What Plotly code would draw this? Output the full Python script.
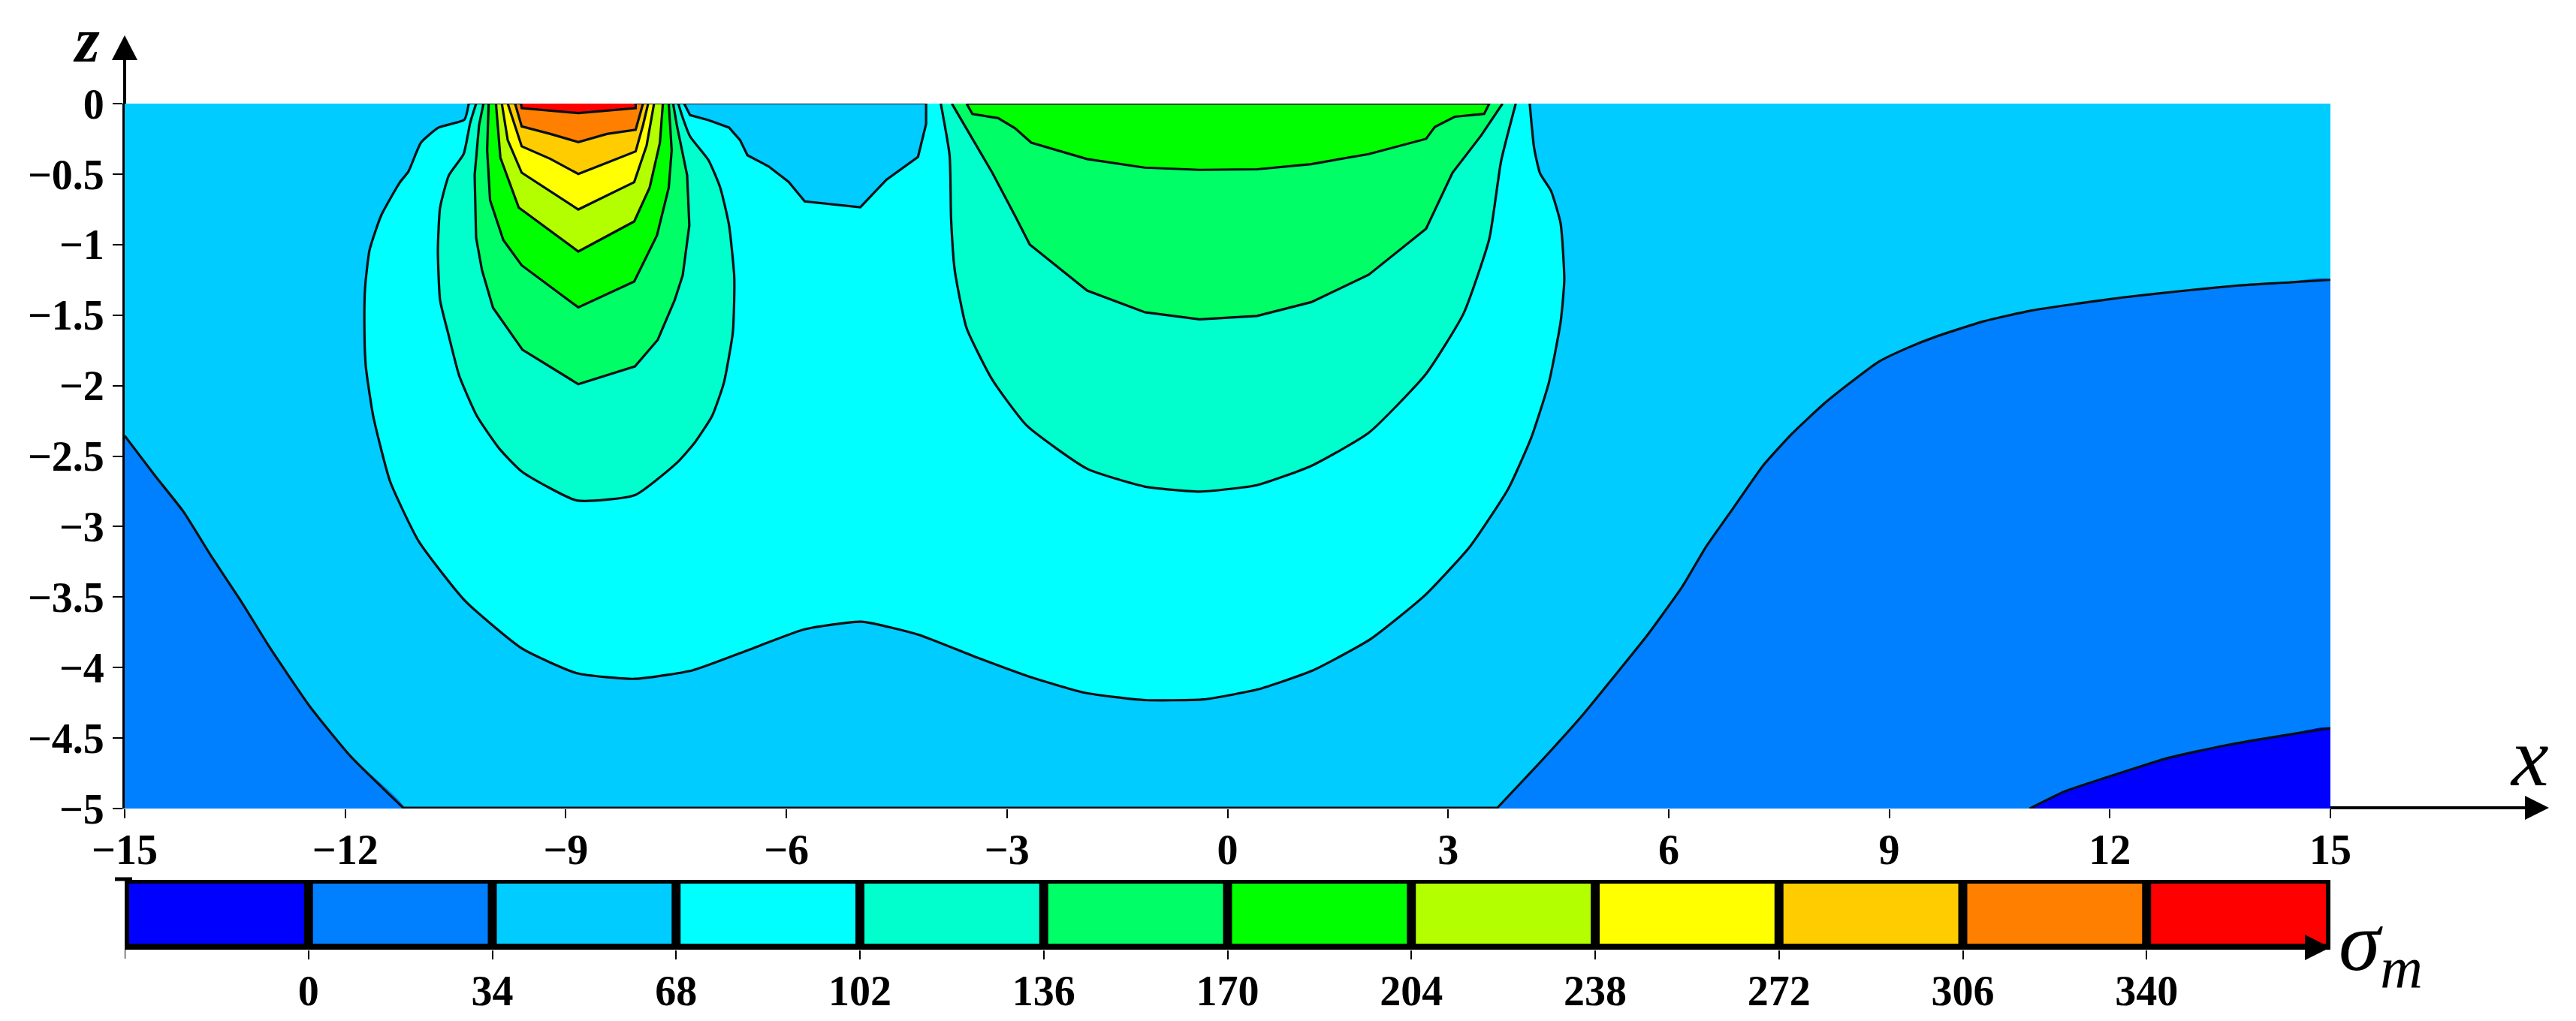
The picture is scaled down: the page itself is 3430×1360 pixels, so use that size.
import plotly.graph_objects as go

W, H = 3430, 1360
SERIF = "Liberation Serif"

# band colours, one per colour bar cell
band_colors = ["#0000ff", "#0080ff", "#00ccff", "#00ffff", "#00ffcc", "#00ff66",
               "#00ff00", "#b3ff00", "#ffff00", "#ffcc00", "#ff8000", "#ff0000"]
cbar_centers = [-17, 17, 51, 85, 119, 153, 187, 221, 255, 289, 323, 357]
cbar_heights = [1] * 12
cbar_ticks = [0, 34, 68, 102, 136, 170, 204, 238, 272, 306, 340]
cbar_labels = ["0", "34", "68", "102", "136", "170", "204", "238", "272", "306", "340"]

x_ticks = [-15, -12, -9, -6, -3, 0, 3, 6, 9, 12, 15]
x_labels = ["−15", "−12", "−9", "−6", "−3", "0", "3", "6", "9", "12", "15"]
z_ticks = [0, -0.5, -1, -1.5, -2, -2.5, -3, -3.5, -4, -4.5, -5]
z_labels = ["0", "−0.5", "−1", "−1.5", "−2", "−2.5", "−3", "−3.5", "−4", "−4.5", "−5"]

domain_x = [-15, 15, 15, -15]
domain_z = [0, 0, -5, -5]

# isolines, (x, z) in axis units
iso0_x = [10.91, 11.38, 12.01, 12.80, 13.59, 14.38, 15.0]
iso0_z = [-5.0, -4.88, -4.77, -4.64, -4.55, -4.48, -4.43]

iso34_left_x = [-15.0, -14.59, -14.2, -13.81, -13.42, -13.03, -12.48, -11.93, -11.2]
iso34_left_z = [-2.356, -2.637, -2.895, -3.22, -3.527, -3.855, -4.277, -4.628, -5.0]
iso34_right_x = [3.66, 4.29, 4.84, 5.31, 5.71, 6.18, 6.5, 6.89, 7.28, 7.68, 8.11, 8.47,
                 8.86, 9.26, 9.65, 10.28, 10.91, 11.54, 12.17, 12.96, 13.75, 14.38, 15.0]
iso34_right_z = [-5.0, -4.65, -4.33, -4.03, -3.77, -3.43, -3.15, -2.86, -2.57, -2.34, -2.13, -1.98,
                 -1.83, -1.73, -1.65, -1.545, -1.47, -1.42, -1.375, -1.33, -1.29, -1.27, -1.25]

iso68_outer_x = [-10.32, -10.38, -10.73, -10.97, -11.14, -11.26, -11.51, -11.67, -11.73, -11.74,
                 -11.72, -11.62, -11.39, -11.0, -10.37, -9.59, -8.85, -8.06, -7.28, -6.54, -5.76,
                 -4.98, -4.21, -3.45, -2.635, -1.93, -1.15, -0.33, 0.41, 1.16, 1.94, 2.68, 3.3,
                 3.82, 4.13, 4.37, 4.53, 4.58, 4.53, 4.40, 4.25, 4.17, 4.11]
iso68_outer_z = [0, -0.114, -0.17, -0.277, -0.481, -0.561, -0.792, -1.04, -1.306, -1.573,
                 -1.864, -2.215, -2.68, -3.105, -3.527, -3.867, -4.04, -4.08, -4.02, -3.88, -3.73,
                 -3.675, -3.766, -3.92, -4.075, -4.18, -4.23, -4.226, -4.155, -4.02, -3.80, -3.49, -3.14,
                 -2.73, -2.37, -1.98, -1.55, -1.25, -0.85, -0.62, -0.495, -0.316, 0]
iso68_notch_x = [-4.10, -4.10, -4.21, -4.64, -4.995, -5.75, -5.97, -6.24, -6.53, -6.63, -6.78,
                 -7.06, -7.31, -7.39]
iso68_notch_z = [0, -0.144, -0.378, -0.54, -0.735, -0.694, -0.555, -0.446, -0.366, -0.259, -0.17,
                 -0.117, -0.082, 0]

iso102_left_x = [-10.22, -10.30, -10.39, -10.59, -10.71, -10.74, -10.71, -10.6, -10.45, -10.21, -9.9,
                 -9.59, -8.85, -8.06, -7.48, -7.24, -7.01, -6.85, -6.73, -6.71, -6.71, -6.78, -6.90,
                 -7.06, -7.31, -7.41, -7.47]
iso102_left_z = [0, -0.135, -0.357, -0.508, -0.738, -1.04, -1.395, -1.63, -1.93, -2.215, -2.45,
                 -2.613, -2.815, -2.777, -2.543, -2.40, -2.215, -1.98, -1.63, -1.395, -1.218, -0.863, -0.596,
                 -0.401, -0.233, -0.1, 0]
iso102_right_x = [-3.90, -3.78, -3.76, -3.71, -3.55, -3.2, -2.73, -1.91, -1.13, -0.38, 0.4, 1.14,
                  1.92, 2.7, 3.21, 3.56, 3.72, 3.92]
iso102_right_z = [0, -0.368, -0.817, -1.183, -1.591, -1.958, -2.284, -2.59, -2.716, -2.752, -2.706, -2.569,
                  -2.335, -1.917, -1.489, -0.959, -0.409, 0]

iso136_left_x = [-10.12, -10.18, -10.24, -10.22, -10.14, -9.99, -9.59, -8.83, -8.06, -7.75, -7.52,
                 -7.41, -7.32, -7.35, -7.49, -7.54]
iso136_left_z = [0, -0.153, -0.508, -0.952, -1.182, -1.448, -1.746, -1.99, -1.864, -1.676, -1.395,
                 -1.218, -0.863, -0.508, -0.153, 0]
iso136_right_x = [-3.75, -3.59, -3.2, -2.89, -2.69, -1.91, -1.13, -0.38, 0.4, 1.14, 1.92, 2.7, 3.06,
                  3.45, 3.72, 3.74]
iso136_right_z = [0, -0.144, -0.49, -0.796, -1.0, -1.326, -1.479, -1.53, -1.506, -1.408, -1.214, -0.888, -0.49,
                  -0.226, -0.02, 0]

iso170_left_x = [-10.05, -10.07, -10.03, -9.85, -9.6, -8.83, -8.07, -7.76, -7.6, -7.56, -7.6]
iso170_left_z = [0, -0.33, -0.685, -0.968, -1.147, -1.445, -1.262, -0.934, -0.596, -0.33, 0]
iso170_right_x = [-3.55, -3.47, -3.12, -2.89, -2.67, -1.91, -1.13, -0.38, 0.4, 1.14, 1.92, 2.7, 2.82,
                  3.09, 3.49, 3.56, -3.55]
iso170_right_z = [0, -0.073, -0.103, -0.175, -0.277, -0.393, -0.454, -0.47, -0.466, -0.429, -0.358, -0.25, -0.165,
                  -0.093, -0.073, 0, 0]

iso204_x = [-9.95, -9.89, -9.64, -8.83, -8.07, -7.86, -7.72, -7.68]
iso204_z = [0, -0.383, -0.738, -1.049, -0.836, -0.596, -0.277, 0]
iso238_x = [-9.87, -9.79, -9.6, -8.83, -8.07, -7.9, -7.8]
iso238_z = [0, -0.259, -0.49, -0.751, -0.557, -0.295, 0]
iso272_x = [-9.79, -9.6, -9.21, -8.83, -8.44, -8.05, -7.95, -7.88]
iso272_z = [0, -0.303, -0.392, -0.499, -0.419, -0.339, -0.153, 0]
iso306_x = [-9.69, -9.6, -9.21, -8.83, -8.44, -8.05, -7.95]
iso306_z = [0, -0.162, -0.215, -0.273, -0.215, -0.185, 0]
iso340_x = [-9.61, -9.6, -8.83, -8.05, -8.05]
iso340_z = [0, -0.032, -0.067, -0.032, 0]

# parts of the frame that show as a dark line in the picture
top_dark_x = [-10.32, -9.61, None, -8.05, -7.39, -4.10]
top_dark_z = [0, 0, None, 0, 0, 0]
bottom_dark_x = [-11.2, 3.66]
bottom_dark_z = [-5, -5]


def px(x):
    return x / W


def py(y):
    return 1 - y / H


def line_style(width, color, smooth):
    if smooth:
        return dict(width=width, color=color, shape="spline", smoothing=0.5)
    return dict(width=width, color=color)


def band(xs, zs, color, smooth=False):
    fig.add_trace(go.Scatter(x=xs, y=zs, mode="lines", fill="toself", fillcolor=color,
                             line=line_style(0, color, smooth), hoverinfo="skip"))


def iso(xs, zs, width=3.2, smooth=False):
    fig.add_trace(go.Scatter(x=xs, y=zs, mode="lines", connectgaps=False,
                             line=line_style(width, "#050f14", smooth), hoverinfo="skip"))


fig = go.Figure()

# filled bands, lowest painted first
band(domain_x, domain_z, band_colors[2])
band(iso34_left_x + [-15], iso34_left_z + [-5], band_colors[1], True)
band(iso34_right_x + [15], iso34_right_z + [-5], band_colors[1], True)
band(iso0_x + [15], iso0_z + [-5], band_colors[0], True)
band(iso68_outer_x, iso68_outer_z, band_colors[3], True)
band(iso68_notch_x, iso68_notch_z, band_colors[2])
band(iso102_left_x, iso102_left_z, band_colors[4], True)
band(iso102_right_x, iso102_right_z, band_colors[4], True)
band(iso136_left_x, iso136_left_z, band_colors[5])
band(iso136_right_x, iso136_right_z, band_colors[5])
band(iso170_left_x, iso170_left_z, band_colors[6])
band(iso170_right_x, iso170_right_z, band_colors[6])
band(iso204_x, iso204_z, band_colors[7])
band(iso238_x, iso238_z, band_colors[8])
band(iso272_x, iso272_z, band_colors[9])
band(iso306_x, iso306_z, band_colors[10])
band(iso340_x, iso340_z, band_colors[11])

for xs, zs in [(iso0_x, iso0_z), (iso34_left_x, iso34_left_z), (iso34_right_x, iso34_right_z),
               (iso68_outer_x, iso68_outer_z), (iso102_left_x, iso102_left_z), (iso102_right_x, iso102_right_z)]:
    iso(xs, zs, smooth=True)

for xs, zs in [(iso68_notch_x, iso68_notch_z), (iso136_left_x, iso136_left_z), (iso136_right_x, iso136_right_z),
               (iso170_left_x, iso170_left_z), (iso170_right_x, iso170_right_z),
               (iso204_x, iso204_z), (iso238_x, iso238_z), (iso272_x, iso272_z),
               (iso306_x, iso306_z), (iso340_x, iso340_z)]:
    iso(xs, zs)

iso(top_dark_x, top_dark_z, 2)
iso(bottom_dark_x, bottom_dark_z, 5)

# colour bar
fig.add_trace(go.Bar(x=cbar_centers, y=cbar_heights, marker=dict(color=band_colors, line=dict(width=0)),
                     xaxis="x2", yaxis="y2", hoverinfo="skip"))

tick_font = dict(family=SERIF, size=56, color="black", weight=700)

fig.update_layout(
    width=W, height=H, autosize=False, showlegend=False,
    margin=dict(l=0, r=0, t=0, b=0, autoexpand=False),
    paper_bgcolor="white", plot_bgcolor="white",
    bargap=12 / 245,
    xaxis=dict(domain=[px(166), px(3103)], range=[-15, 15], tickmode="array", tickvals=x_ticks, ticktext=x_labels,
               ticks="outside", ticklen=12, tickwidth=2, tickcolor="black", tickfont=tick_font, automargin=False,
               ticklabelstandoff=-6, showgrid=False, zeroline=False, showline=False, anchor="y"),
    yaxis=dict(domain=[py(1077), py(138)], range=[-5, 0], tickmode="array", tickvals=z_ticks, ticktext=z_labels,
               ticks="outside", ticklen=13, tickwidth=2, tickcolor="black", tickfont=tick_font, automargin=False,
               ticklabelstandoff=0, showgrid=False, zeroline=False, showline=True, linecolor="black", linewidth=3,
               anchor="x"),
    xaxis2=dict(domain=[px(166), px(3103)], range=[-34, 374], tickmode="array", tickvals=cbar_ticks,
                ticktext=cbar_labels, ticks="outside", ticklen=12, tickwidth=2, tickcolor="black", tickfont=tick_font,
                automargin=False, ticklabelstandoff=-6, showgrid=False, zeroline=False, showline=False, anchor="y2"),
    yaxis2=dict(domain=[py(1265), py(1172)], range=[-0.1, 1.0625], showticklabels=False, ticks="", automargin=False,
                showgrid=False, zeroline=False, showline=False, anchor="x2"),
    shapes=[
        # black frame behind the colour bar cells
        dict(type="rect", xref="x2 domain", yref="y2 domain", x0=0, x1=1, y0=0, y1=1, layer="below",
             fillcolor="black", line=dict(width=0)),
        # unlabelled first tick of the colour bar
        dict(type="line", xref="x2", yref="paper", x0=-34, x1=-34, y0=py(1265), y1=py(1277),
             line=dict(color="black", width=2)),
        # z axis arrow
        dict(type="line", xref="paper", yref="paper", x0=px(166), x1=px(166), y0=py(138), y1=py(70),
             line=dict(color="black", width=4)),
        dict(type="path", xref="paper", yref="paper", fillcolor="black", line=dict(width=0),
             path=f"M {px(166)} {py(47)} L {px(183)} {py(80)} L {px(149)} {py(80)} Z"),
        # x axis arrow
        dict(type="line", xref="paper", yref="paper", x0=px(3103), x1=px(3370), y0=py(1076), y1=py(1076),
             line=dict(color="black", width=4)),
        dict(type="path", xref="paper", yref="paper", fillcolor="black", line=dict(width=0),
             path=f"M {px(3394)} {py(1076)} L {px(3362)} {py(1060)} L {px(3362)} {py(1092)} Z"),
        # colour bar arrow and corner stub
        dict(type="path", xref="paper", yref="paper", fillcolor="black", line=dict(width=0),
             path=f"M {px(3103)} {py(1262)} L {px(3069)} {py(1245)} L {px(3069)} {py(1279)} Z"),
        dict(type="line", xref="paper", yref="paper", x0=px(153), x1=px(176), y0=py(1171), y1=py(1171),
             line=dict(color="black", width=5)),
    ],
    annotations=[
        dict(text="z", xref="paper", yref="paper", x=px(115), y=py(54), showarrow=False, xanchor="center",
             yanchor="middle", font=dict(family=SERIF, size=84, color="black", style="italic", weight=700)),
        dict(text="x", xref="paper", yref="paper", x=px(3368), y=py(1008), showarrow=False, xanchor="center",
             yanchor="middle", font=dict(family=SERIF, size=112, color="black", style="italic")),
        dict(text="σ<sub>m</sub>", xref="paper", yref="paper", x=px(3112), y=py(1262), showarrow=False,
             xanchor="left", yanchor="middle", font=dict(family=SERIF, size=112, color="black", style="italic")),
    ],
)

fig.write_html("out.html", config={"displayModeBar": False},
               post_script="document.body.style.margin='0';document.body.style.overflow='hidden';")
